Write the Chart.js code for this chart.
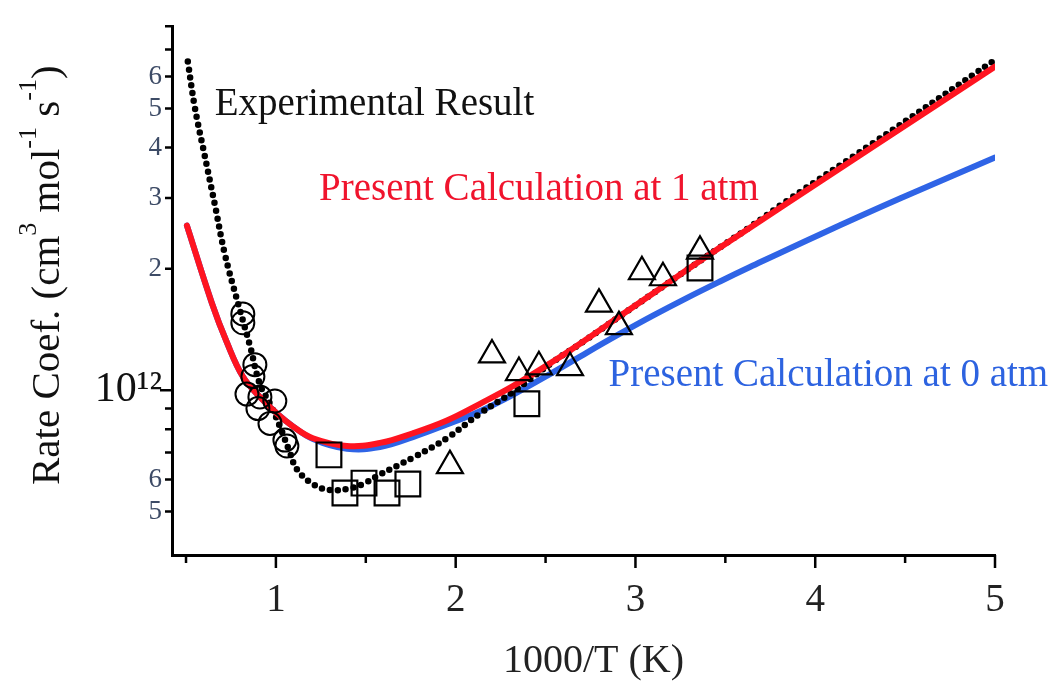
<!DOCTYPE html>
<html><head><meta charset="utf-8">
<script src="https://cdn.jsdelivr.net/npm/chart.js@4.4.1/dist/chart.umd.min.js"></script>
<style>html,body{margin:0;padding:0;background:#fff;overflow:hidden}</style>
</head><body>
<canvas id="c" width="1061" height="681"></canvas>
<script>
// ---- data (x = 1000/T in 1/K, y = rate coefficient in cm3 mol-1 s-1) ----
const calc1atmX = [0.505,0.644,0.727,0.816,0.911,1.006,1.095,1.206,1.395,1.579,1.762,1.951,2.135,2.318,2.541,2.730,2.914,3.097,3.287,3.470,3.637,3.843,4.321,5.0];
const calc1atmY = [2.56e12,1.644e12,1.315e12,1.081e12,0.962e12,0.875e12,0.813e12,0.760e12,0.727e12,0.740e12,0.782e12,0.841e12,0.925e12,1.023e12,1.178e12,1.340e12,1.528e12,1.738e12,1.989e12,2.259e12,2.529e12,2.911e12,4.018e12,6.353e12];

const calc0atmX = [0.505,0.644,0.727,0.816,0.911,1.006,1.095,1.206,1.395,1.579,1.762,1.951,2.135,2.318,2.541,2.730,2.914,3.097,3.287,3.470,3.637,4.026,4.471,5.0];
const calc0atmY = [2.56e12,1.644e12,1.315e12,1.081e12,0.962e12,0.875e12,0.813e12,0.757e12,0.716e12,0.723e12,0.765e12,0.822e12,0.887e12,0.974e12,1.107e12,1.240e12,1.381e12,1.531e12,1.695e12,1.861e12,2.021e12,2.435e12,2.989e12,3.777e12];

const expFitX = [0.510,0.549,0.605,0.661,0.716,0.789,0.855,0.911,0.967,1.022,1.078,1.117,1.206,1.300,1.395,1.484,1.579,1.762,1.951,2.135,2.318,2.541,2.730,2.914,3.097,3.287,3.470,3.637,3.843,4.321,5.0];
const expFitY = [6.54e12,5.03e12,3.80e12,2.876e12,2.175e12,1.644e12,1.293e12,1.034e12,0.925e12,0.813e12,0.70e12,0.636e12,0.585e12,0.565e12,0.569e12,0.585e12,0.618e12,0.680e12,0.760e12,0.875e12,0.990e12,1.175e12,1.338e12,1.527e12,1.738e12,1.989e12,2.262e12,2.54e12,2.95e12,4.10e12,6.6e12];

const circleX = [0.816,0.816,0.883,0.872,0.839,0.911,0.994,0.900,0.967,1.050,1.061];
const circleY = [1.546e12,1.47e12,1.157e12,1.081e12,0.978e12,0.962e12,0.940e12,0.900e12,0.827e12,0.752e12,0.727e12];

const squareX = [1.295,1.384,1.490,1.618,1.734,2.396,3.359];
const squareY = [0.691e12,0.556e12,0.588e12,0.556e12,0.585e12,0.925e12,2.01e12];

const triangleX = [1.968,2.202,2.352,2.463,2.636,2.797,2.908,3.036,3.153,3.359];
const triangleY = [0.650e12,1.223e12,1.106e12,1.143e12,1.137e12,1.635e12,1.438e12,1.967e12,1.901e12,2.212e12];

const xTickValues = [0.5,1,1.5,2,2.5,3,3.5,4,4.5,5];
const xTickLabels = ['','1','','2','','3','','4','','5'];
const xMajorTicks = [1,2,3,4,5];
const yTickValues = [5e11,6e11,7e11,8e11,9e11,1e12,2e12,3e12,4e12,5e12,6e12,7e12,8e12];
const yTickLabels = ['5','6','','','','10\u00B9\u00B2','2','3','4','5','6','',''];
const yMajorTicks = [1e12];

const xTitle = '1000/T (K)';
const yTitleParts = [['Rate Coef. (cm',0],['3',1],[' mol',0],['-1',1],[' s',0],['-1',1],[')',0]];
const notes = [
  {text:'Experimental Result', x:0.66, y:4.83e12, color:'#111111'},
  {text:'Present Calculation at 1 atm', x:1.24, y:2.97e12, color:'#f0142d'},
  {text:'Present Calculation at 0 atm', x:2.85, y:1.023e12, color:'#2d63e0'}
];

const SERIF = '"Liberation Serif", "Times New Roman", serif';
const pts = (xs, ys) => xs.map((v,i)=>({x:v, y:ys[i]}));

const tickPlugin = {
  id:'tickMarks',
  afterDraw(chart){
    const {ctx, scales:{x, y}, chartArea:a} = chart;
    ctx.save();
    ctx.strokeStyle = '#000';
    ctx.lineWidth = 2.5;
    ctx.beginPath();
    xTickValues.forEach(v=>{
      const px = x.getPixelForValue(v);
      const len = xMajorTicks.includes(v) ? 13 : 8;
      ctx.moveTo(px, a.bottom); ctx.lineTo(px, a.bottom + len);
    });
    yTickValues.forEach(v=>{
      const py = y.getPixelForValue(v);
      const len = yMajorTicks.includes(v) ? 12 : 7;
      ctx.moveTo(a.left, py); ctx.lineTo(a.left - len, py);
    });
    ctx.stroke();
    // y axis title with superscripts
    ctx.fillStyle = '#111';
    ctx.textBaseline = 'alphabetic';
    ctx.translate(59, 485);
    ctx.rotate(-Math.PI/2);
    let cx = 0;
    yTitleParts.forEach(([t, sup])=>{
      ctx.font = sup ? '26px ' + SERIF : '41px ' + SERIF;
      ctx.fillText(t, cx, sup ? -23 : 0);
      cx += ctx.measureText(t).width;
    });
    ctx.restore();
  },
  afterDatasetsDraw(chart){
    const {ctx, scales:{x, y}} = chart;
    ctx.save();
    ctx.font = '39px ' + SERIF;
    ctx.textBaseline = 'alphabetic';
    notes.forEach(n=>{
      ctx.fillStyle = n.color;
      ctx.fillText(n.text, x.getPixelForValue(n.x), y.getPixelForValue(n.y));
    });
    ctx.restore();
  }
};

new Chart(document.getElementById('c'), {
  type:'line',
  data:{
    datasets:[
      {label:'Circles', type:'scatter', data:pts(circleX, circleY), showLine:false, pointStyle:'circle', pointRadius:11.5, pointBorderWidth:2, pointBorderColor:'#000', pointBackgroundColor:'rgba(0,0,0,0)', order:0},
      {label:'Squares', type:'scatter', data:pts(squareX, squareY), showLine:false, pointStyle:'rect', pointRadius:17.5, pointBorderWidth:2.2, pointBorderColor:'#000', pointBackgroundColor:'rgba(0,0,0,0)', order:0},
      {label:'Triangles', type:'scatter', data:pts(triangleX, triangleY), showLine:false, pointStyle:'triangle', pointRadius:15, pointBorderWidth:2.2, pointBorderColor:'#000', pointBackgroundColor:'rgba(0,0,0,0)', order:0},
      {label:'Present Calculation at 1 atm', data:pts(calc1atmX, calc1atmY), borderColor:'#ff1420', borderWidth:6, pointRadius:0, tension:0.4, borderCapStyle:'round', borderJoinStyle:'round', fill:false, order:1},
      {label:'Experimental Result', data:pts(expFitX, expFitY), borderColor:'#000', borderWidth:6.5, borderDash:[0,8], borderCapStyle:'round', pointRadius:0, tension:0.4, fill:false, order:2},
      {label:'Present Calculation at 0 atm', data:pts(calc0atmX, calc0atmY), borderColor:'#2f64e6', borderWidth:6, pointRadius:0, tension:0.4, borderCapStyle:'round', borderJoinStyle:'round', fill:false, order:3}
    ]
  },
  options:{
    responsive:false,
    animation:false,
    events:[],
    layout:{padding:{left:0, right:66, top:15, bottom:0}},
    plugins:{legend:{display:false}, tooltip:{enabled:false}},
    scales:{
      x:{
        type:'linear', min:0.422, max:5,
        afterBuildTicks(s){ s.ticks = xTickValues.map(v=>({value:v})); },
        afterFit(s){ s.height = 126; },
        grid:{display:true, drawOnChartArea:false, drawTicks:false},
        border:{display:true, color:'#000', width:3},
        ticks:{autoSkip:false, maxRotation:0, padding:22, color:'#222',
          font:{family:SERIF, size:39},
          callback(v){ const i = xTickValues.indexOf(v); return i>=0 ? xTickLabels[i] : ''; }},
        title:{display:true, text:'  ' + xTitle, color:'#222', font:{family:SERIF, size:40, lineHeight:0.85}, padding:{top:0, bottom:3}}
      },
      y:{
        type:'logarithmic', min:3.9e11, max:8e12,
        afterBuildTicks(s){ s.ticks = yTickValues.map(v=>({value:v})); },
        afterFit(s){ s.width = 172; },
        grid:{display:true, drawOnChartArea:false, drawTicks:false},
        border:{display:true, color:'#000', width:3},
        ticks:{autoSkip:false, padding:10,
          color(c){ return c.tick && c.tick.value === 1e12 ? '#111' : '#3d4b66'; },
          font(c){ return c.tick && c.tick.value === 1e12 ? {family:SERIF, size:42} : {family:SERIF, size:27}; },
          callback(v){ const i = yTickValues.indexOf(v); return i>=0 ? yTickLabels[i] : ''; }}
      }
    }
  },
  plugins:[tickPlugin]
});
</script>
</body></html>
